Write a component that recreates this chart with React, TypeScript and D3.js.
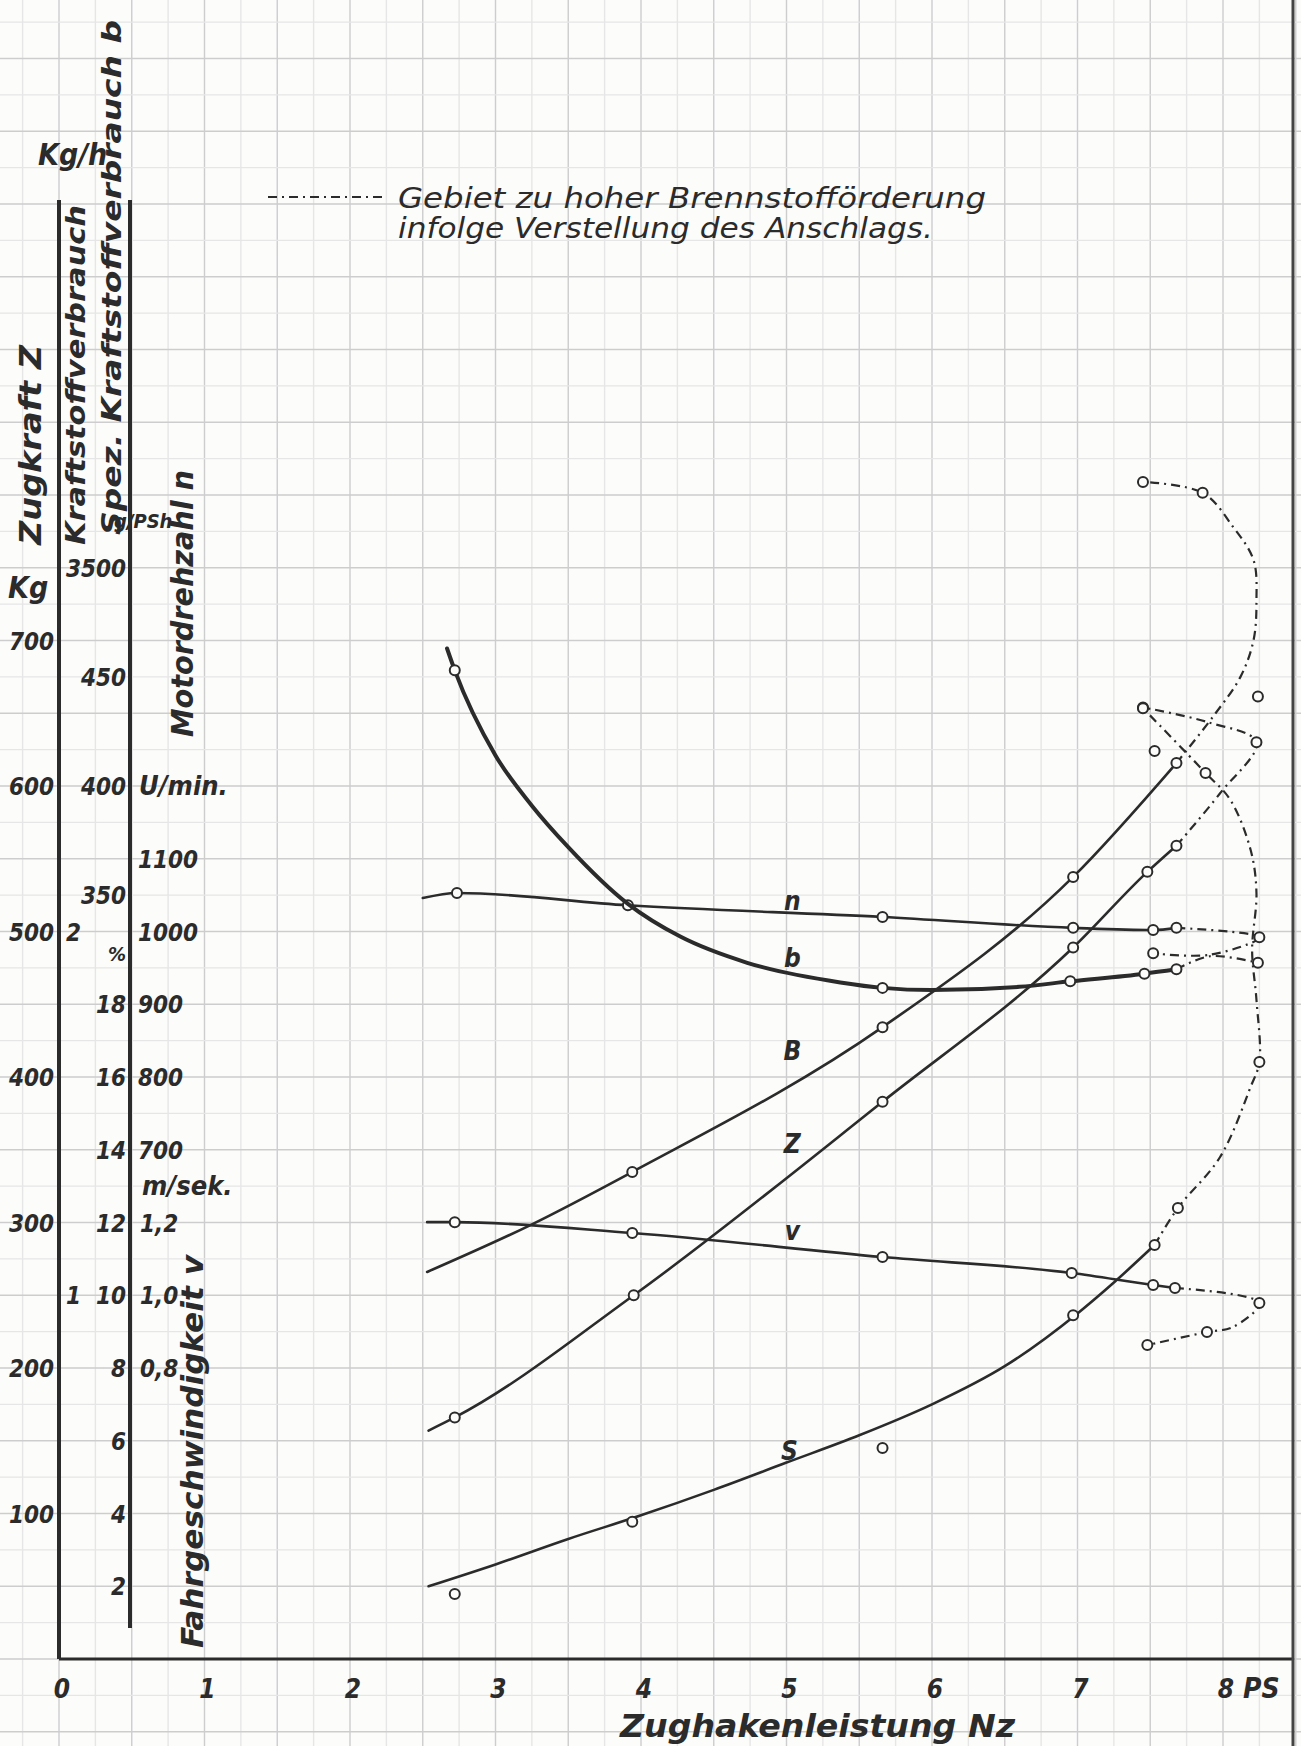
import React from 'react';
import * as d3 from 'd3';

const W = 1301;
const H = 1746;

// axis ticks
const psTicks = [0, 1, 2, 3, 4, 5, 6, 7, 8];
const zugTicks = [100, 200, 300, 400, 500, 600, 700];     // Zugkraft Z [Kg]
const BTicks = [1, 2, 3];                                   // Kraftstoffverbrauch B [Kg/h]
const bTicks = [350, 400, 450, 500];                        // spez. Verbrauch b [g/PSh]
const sTicks = [2, 4, 6, 8, 10, 12, 14, 16, 18];            // Schlupf S [%]
const nTicks = [700, 800, 900, 1000, 1100];                 // Motordrehzahl n [U/min]
const vTicks = [0.8, 1.0, 1.2];                             // Fahrgeschwindigkeit v [m/sek]

// measured curves [Nz PS, value]
const nCurve = [[2.5, 1046], [2.735, 1053], [3.91, 1036], [5.66, 1020], [6.97, 1005], [7.52, 1002], [7.68, 1005]];
const nDash = [[7.68, 1005], [8.25, 992], [7.91, 968], [7.52, 970]];
const nPoints = [[2.735, 1053], [3.91, 1036], [5.66, 1020], [6.97, 1005], [7.52, 1002], [7.68, 1005], [8.25, 992], [7.52, 970]];

const bCurve = [[2.667, 463], [2.72, 453], [3.0, 414], [3.25, 391], [3.5, 372], [3.91, 346], [4.27, 331], [4.73, 319], [5.37, 310], [5.66, 307.5], [6.0, 306.5], [6.6, 308], [6.95, 310.5], [7.46, 314], [7.68, 316]];
const bDash = [[7.68, 316], [7.91, 322], [8.24, 319]];
const bPoints = [[2.72, 453], [5.66, 307.5], [6.95, 310.5], [7.46, 314], [7.68, 316], [8.24, 319], [7.53, 416], [8.24, 441]];

const BCurve = [[2.53, 1.064], [3.24, 1.193], [3.94, 1.339], [5.66, 1.737], [6.97, 2.15], [7.68, 2.463]];
const BDash = [[7.68, 2.463], [7.93, 2.59], [8.12, 2.7], [8.21, 2.801], [8.23, 2.911], [8.21, 3.021], [8.07, 3.112], [7.86, 3.206], [7.45, 3.236]];
const BPoints = [[3.94, 1.339], [5.66, 1.737], [6.97, 2.15], [7.68, 2.463], [7.86, 3.206], [7.45, 3.236]];

const zCurve = [[2.54, 157], [2.72, 166], [3.95, 250], [5.66, 383], [6.97, 489], [7.48, 541], [7.68, 559]];
const zDash = [[7.68, 559], [7.98, 595], [8.23, 630], [7.89, 644], [7.45, 654]];
const zPoints = [[2.72, 166], [3.95, 250], [5.66, 383], [6.97, 489], [7.48, 541], [7.68, 559], [8.23, 630], [7.45, 654]];

const vCurve = [[2.53, 1.201], [2.72, 1.201], [3.94, 1.171], [5.66, 1.105], [6.96, 1.061], [7.52, 1.028], [7.67, 1.02]];
const vDash = [[7.67, 1.02], [8.25, 0.979], [8.07, 0.913], [7.89, 0.899], [7.48, 0.863]];
const vPoints = [[2.72, 1.201], [3.94, 1.171], [5.66, 1.105], [6.96, 1.061], [7.52, 1.028], [7.67, 1.02], [8.25, 0.979], [7.89, 0.899], [7.48, 0.863]];

const sCurve = [[2.54, 2.0], [3.0, 2.6], [3.5, 3.3], [4.0, 3.95], [4.5, 4.65], [5.0, 5.4], [5.5, 6.15], [6.0, 7.0], [6.5, 8.05], [7.0, 9.5], [7.25, 10.35], [7.53, 11.38]];
const sDash = [[7.53, 11.38], [7.69, 12.4], [7.98, 13.8], [8.19, 15.73], [8.25, 16.41], [8.23, 18.12], [8.2, 19.49], [8.23, 21.06], [8.19, 22.24], [8.05, 23.62], [7.88, 24.36], [7.45, 26.14]];
const sPoints = [[2.72, 1.79], [3.94, 3.77], [5.66, 5.8], [6.97, 9.45], [7.53, 11.38], [7.69, 12.4], [8.25, 16.41], [7.88, 24.36], [7.45, 26.14]];

// curve names, placed at [PS, value on the curve's own scale]
const curveLabels = [['n', 5.04, 1030], ['b', 5.04, 317], ['B', 5.04, 1.647], ['Z', 5.04, 348], ['v', 5.04, 1.152], ['S', 5.02, 5.47]];

const U = 145.5;           // one unit on the graph paper (1 PS, 100 Kg)
const X0 = 59;
const Y0 = 1659;
const INK = '#2b2b2b';
const FONT = "'DejaVu Sans Condensed', 'DejaVu Sans', sans-serif";

const x = d3.scaleLinear().domain([0, 8]).range([X0, X0 + 8 * U]);
const yKg = d3.scaleLinear().domain([0, 100]).range([Y0, Y0 - U]);
const yB = d3.scaleLinear().domain([0, 1]).range([Y0, Y0 - 2.5 * U]);
const yb = d3.scaleLinear().domain([0, 100]).range([Y0, Y0 - 1.5 * U]);
const yn = d3.scaleLinear().domain([0, 100]).range([Y0, Y0 - 0.5 * U]);
const yS = d3.scaleLinear().domain([0, 2]).range([Y0, Y0 - 0.5 * U]);
const yv = d3.scaleLinear().domain([0, 0.2]).range([Y0, Y0 - 0.5 * U]);

const fmtV = (v: number) => v.toFixed(1).replace('.', ',');

function Series({curve, dash, points, y, width=2.6}: any) {
    // solid part runs left to right, the dash-dot part loops back
    const solid = d3.line<number[]>()
        .x((d) => x(d[0]))
        .y((d) => y(d[1]))
        .curve(d3.curveMonotoneX);
    const loop = d3.line<number[]>()
        .x((d) => x(d[0]))
        .y((d) => y(d[1]))
        .curve(d3.curveCatmullRom.alpha(0.5));
    return (
        <g>
            <path d={solid(curve) || ''} fill="none" stroke={INK} strokeWidth={width} strokeLinecap="round" />
            <path d={loop(dash) || ''} fill="none" stroke={INK} strokeWidth={2.2} strokeDasharray="9 5 2 5" />
            {points.map((p: number[], i: number) =>
                <circle key={i} cx={x(p[0])} cy={y(p[1])} r={5} fill="#fcfcfb" stroke={INK} strokeWidth={2} />
            )}
        </g>
    );
}

function Rot({cx, bottom, len, size, children}: any) {
    return (
        <text transform={`translate(${cx + size * 0.36}, ${bottom}) rotate(-90)`} fontSize={size} fontFamily={FONT}
            fontStyle="italic" fontWeight="bold" fill={INK} textLength={len} lengthAdjust="spacingAndGlyphs">{children}</text>
    );
}

export default function App() {
    const gridX = d3.range(-0.5, 8.75, 0.25);
    const gridY = d3.range(-50, 1225, 25);
    const lab = {fontFamily: FONT, fontStyle: 'italic', fontWeight: 'bold', fill: INK} as any;
    const scales: any = {n: yn, b: yb, B: yB, Z: yKg, v: yv, S: yS};

    return (
        <svg width={W} height={H} xmlns="http://www.w3.org/2000/svg" style={{position: 'absolute', left: 0, top: 0}}>
            <rect width={W} height={H} fill="#fcfcfb" />
            {gridX.map((v, i) =>
                <line key={`gx${i}`} x1={x(v)} x2={x(v)} y1={0} y2={H}
                    stroke={Math.abs(v * 2 - Math.round(v * 2)) < 1e-6 ? '#cdcdcd' : '#e6e6e6'} strokeWidth={1.4} />
            )}
            {gridY.map((v, i) =>
                <line key={`gy${i}`} x1={0} x2={W} y1={yKg(v)} y2={yKg(v)}
                    stroke={v % 50 === 0 ? '#cdcdcd' : '#e6e6e6'} strokeWidth={1.4} />
            )}

            {/* frame and value axes */}
            <line x1={X0} x2={1293} y1={Y0} y2={Y0} stroke={INK} strokeWidth={3} />
            <line x1={X0} x2={X0} y1={200} y2={Y0} stroke={INK} strokeWidth={4} />
            <line x1={130} x2={130} y1={200} y2={1628} stroke={INK} strokeWidth={4} />
            <line x1={1293} x2={1293} y1={0} y2={H} stroke="#444" strokeWidth={3} />

            {/* x ticks */}
            {psTicks.map((v) =>
                <text key={`px${v}`} x={x(v) + 3} y={1698} fontSize={26} textAnchor="middle" {...lab}>{v}</text>
            )}
            <text x={1243} y={1698} fontSize={28} {...lab}>PS</text>
            <text x={620} y={1737} fontSize={32} textLength={395} lengthAdjust="spacingAndGlyphs" {...lab}>Zughakenleistung Nz</text>

            {/* left scales */}
            {zugTicks.map((v) =>
                <text key={`z${v}`} x={54} y={yKg(v) + 9} fontSize={24} textAnchor="end" {...lab}>{v}</text>
            )}
            {BTicks.map((v) =>
                <text key={`B${v}`} x={66} y={yB(v) + 9} fontSize={24} {...lab}>{v}</text>
            )}
            {bTicks.map((v) =>
                <text key={`b${v}`} x={126} y={yb(v) + 9} fontSize={24} textAnchor="end" {...lab}>{v}</text>
            )}
            {sTicks.map((v) =>
                <text key={`s${v}`} x={126} y={yS(v) + 9} fontSize={24} textAnchor="end" {...lab}>{v}</text>
            )}
            <text x={126} y={yS(19.4) + 8} fontSize={20} textAnchor="end" {...lab}>%</text>
            {nTicks.map((v) =>
                <text key={`n${v}`} x={138} y={yn(v) + 9} fontSize={24} {...lab}>{v}</text>
            )}
            {vTicks.map((v) =>
                <text key={`v${v}`} x={140} y={yv(v) + 9} fontSize={24} {...lab}>{fmtV(v)}</text>
            )}

            {/* axis titles */}
            <text x={38} y={165} fontSize={30} {...lab}>Kg/h</text>
            <text x={8} y={598} fontSize={30} {...lab}>Kg</text>
            <text x={114} y={528} fontSize={20} {...lab}>g/PSh</text>
            <text x={139} y={795} fontSize={27} {...lab}>U/min.</text>
            <text x={142} y={1195} fontSize={27} {...lab}>m/sek.</text>
            <Rot cx={30} bottom={545} len={200} size={30}>Zugkraft Z</Rot>
            <Rot cx={76} bottom={545} len={340} size={26}>Kraftstoffverbrauch</Rot>
            <Rot cx={112} bottom={535} len={515} size={26}>Spez. Kraftstoffverbrauch b</Rot>
            <Rot cx={182} bottom={737} len={267} size={30}>Motordrehzahl n</Rot>
            <Rot cx={192} bottom={1648} len={393} size={30}>Fahrgeschwindigkeit v</Rot>

            {/* legend */}
            <line x1={268} x2={382} y1={197} y2={197} stroke={INK} strokeWidth={2.2} strokeDasharray="9 5 2 5" />
            <text x={398} y={208} fontSize={28} textLength={588} lengthAdjust="spacingAndGlyphs" fontFamily={FONT} fontStyle="italic" fill={INK}>Gebiet zu hoher Brennstofförderung</text>
            <text x={398} y={238} fontSize={28} textLength={535} lengthAdjust="spacingAndGlyphs" fontFamily={FONT} fontStyle="italic" fill={INK}>infolge Verstellung des Anschlags.</text>

            {/* curves */}
            <Series curve={nCurve} dash={nDash} points={nPoints} y={yn} />
            <Series curve={bCurve} dash={bDash} points={bPoints} y={yb} width={4} />
            <Series curve={BCurve} dash={BDash} points={BPoints} y={yB} />
            <Series curve={zCurve} dash={zDash} points={zPoints} y={yKg} />
            <Series curve={vCurve} dash={vDash} points={vPoints} y={yv} />
            <Series curve={sCurve} dash={sDash} points={sPoints} y={yS} />

            {curveLabels.map(([t, px, v]: any) =>
                <text key={t} x={x(px)} y={scales[t](v)} fontSize={26} textAnchor="middle" {...lab}>{t}</text>
            )}
        </svg>
    );
}
